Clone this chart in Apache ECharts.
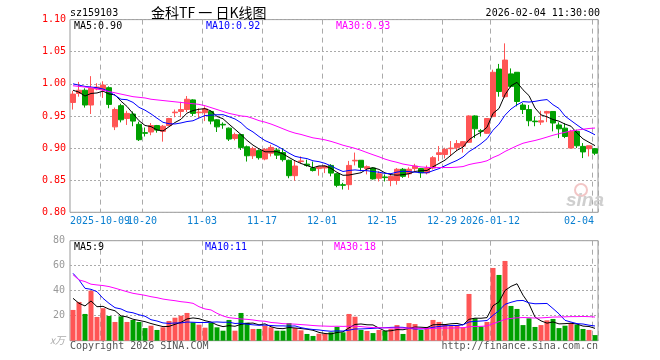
<!DOCTYPE html>
<html><head><meta charset="utf-8">
<script src="https://cdn.jsdelivr.net/npm/echarts@6/dist/echarts.min.js"></script>
<style>html,body{margin:0;padding:0;background:#fff}#c{width:660px;height:360px}</style>
</head><body><div id="c"></div>
<script>
// ---------- data ----------
const dates = [
'2025-09-24','2025-09-25','2025-09-26','2025-09-29','2025-09-30',
'2025-10-09','2025-10-10','2025-10-13','2025-10-14','2025-10-15','2025-10-16','2025-10-17',
'2025-10-20','2025-10-21','2025-10-22','2025-10-23','2025-10-24','2025-10-27','2025-10-28','2025-10-29','2025-10-30','2025-10-31',
'2025-11-03','2025-11-04','2025-11-05','2025-11-06','2025-11-07','2025-11-10','2025-11-11','2025-11-12','2025-11-13','2025-11-14',
'2025-11-17','2025-11-18','2025-11-19','2025-11-20','2025-11-21','2025-11-24','2025-11-25','2025-11-26','2025-11-27','2025-11-28',
'2025-12-01','2025-12-02','2025-12-03','2025-12-04','2025-12-05','2025-12-08','2025-12-09','2025-12-10','2025-12-11','2025-12-12',
'2025-12-15','2025-12-16','2025-12-17','2025-12-18','2025-12-19','2025-12-22','2025-12-23','2025-12-24','2025-12-25','2025-12-26',
'2025-12-29','2025-12-30','2025-12-31',
'2026-01-05','2026-01-06','2026-01-07','2026-01-08','2026-01-09','2026-01-12','2026-01-13','2026-01-14','2026-01-15','2026-01-16',
'2026-01-19','2026-01-20','2026-01-21','2026-01-22','2026-01-23','2026-01-26','2026-01-27','2026-01-28','2026-01-29','2026-01-30',
'2026-02-02','2026-02-03','2026-02-04'];

const open  = [0.971,0.985,0.990,0.967,0.992,0.991,0.994,0.933,0.966,0.946,
0.953,0.937,0.924,0.925,0.935,0.926,0.935,0.955,0.957,0.960,
0.975,0.955,0.955,0.957,0.944,0.937,0.931,0.915,0.921,0.902,
0.888,0.896,0.883,0.892,0.897,0.893,0.881,0.857,0.879,0.875,
0.869,0.868,0.869,0.873,0.860,0.843,0.843,0.880,0.881,0.868,
0.869,0.853,0.855,0.8495,0.8495,0.867,0.860,0.868,0.868,0.8615,
0.869,0.890,0.890,0.899,0.9005,0.903,0.909,0.950,0.927,0.923,
0.949,1.023,0.980,1.0155,1.018,0.967,0.960,0.942,0.9404,0.9544,
0.957,0.936,0.931,0.900,0.926,0.9026,0.899,0.899];
const close = [0.984,0.990,0.967,0.993,0.995,0.998,0.968,0.960,0.944,0.954,
0.942,0.913,0.923,0.935,0.928,0.934,0.946,0.956,0.960,0.976,
0.954,0.956,0.961,0.942,0.933,0.936,0.914,0.921,0.901,0.888,
0.899,0.885,0.898,0.901,0.889,0.882,0.857,0.872,0.880,0.873,
0.865,0.871,0.872,0.861,0.842,0.842,0.873,0.881,0.870,0.871,
0.852,0.860,0.854,0.856,0.867,0.856,0.867,0.872,0.8615,0.869,
0.885,0.8927,0.898,0.900,0.907,0.910,0.950,0.930,0.926,0.946,
1.018,0.988,1.037,0.996,0.9725,0.960,0.9425,0.941,0.9425,0.957,
0.939,0.930,0.918,0.926,0.9036,0.894,0.9036,0.892];
const high  = [0.989,1.003,0.993,1.012,1.001,1.004,0.996,0.963,0.969,0.958,
0.957,0.941,0.932,0.939,0.936,0.936,0.947,0.960,0.972,0.981,
0.976,0.962,0.965,0.958,0.945,0.940,0.932,0.924,0.922,0.904,
0.902,0.898,0.900,0.905,0.900,0.900,0.882,0.881,0.887,0.882,
0.879,0.872,0.873,0.875,0.861,0.846,0.880,0.893,0.881,0.873,
0.870,0.864,0.859,0.859,0.869,0.869,0.870,0.8755,0.869,0.873,
0.8875,0.9031,0.9005,0.911,0.9125,0.911,0.951,0.951,0.9295,0.9466,
1.022,1.031,1.063,1.024,1.018,0.970,0.967,0.949,0.958,0.958,
0.957,0.940,0.9388,0.9285,0.9285,0.9078,0.9036,0.900];
const low   = [0.960,0.980,0.963,0.953,0.990,0.978,0.962,0.928,0.940,0.936,
0.934,0.911,0.918,0.920,0.924,0.910,0.934,0.948,0.948,0.956,
0.950,0.947,0.942,0.937,0.925,0.930,0.911,0.912,0.897,0.879,
0.883,0.882,0.881,0.887,0.883,0.879,0.853,0.849,0.876,0.871,
0.8635,0.857,0.861,0.856,0.839,0.8355,0.835,0.873,0.864,0.859,
0.851,0.848,0.848,0.8406,0.843,0.8536,0.8536,0.864,0.8536,0.859,
0.8667,0.8797,0.8839,0.8875,0.8953,0.893,0.908,0.9155,0.918,0.922,
0.948,0.980,0.978,0.994,0.965,0.953,0.934,0.934,0.936,0.9404,
0.926,0.9155,0.9155,0.900,0.900,0.8844,0.887,0.889];
const volume = [24.6,31,21.4,40,19,26,19.8,15,19.5,15,
16.6,15,10.1,12,8.6,10.7,15.8,18.4,20,22.2,
14.7,12.8,10.4,14.4,10.7,8,16.6,8,22.2,14.4,
9.4,9.4,12,10.7,8,8,14.1,10.1,8.3,5.4,
3.8,5.6,5.6,6.7,11,6.7,21.4,19.2,8.6,7.8,
6.1,8.6,7.8,9.4,12.5,5.4,14.1,13.3,8.6,11,
16.6,15,13.3,11.7,12.5,10.7,37.4,17.9,11.3,15,
58.2,52.6,63.8,27.8,25.4,12.5,17.9,11,12.5,16.3,
17.4,10.1,12,14.1,12.8,9.4,8.6,4.5];

// moving-average values at the left edge (need data before the window)
const priceMA5Head  = [0.990,0.987,0.981,0.985];
const priceMA10Head = [1.000,0.998,0.996,0.995,0.994,0.992,0.988,0.982,0.976];
const priceMA30Head = [0.997,0.996,0.995,0.994,0.992,0.990,0.988,0.986,0.984,0.982,
0.980,0.979,0.978,0.976,0.975,0.974,0.973,0.972,0.971,0.970,
0.969,0.968,0.966,0.963,0.960,0.957,0.954,0.952,0.950];
const volMA5Head  = [33.9,29.9,27.8,31.8];
const volMA10Head = [53.9,48.6,41.9,41.1,39.2,33.9,29.9,26.4,25.4];
const volMA30Head = [52.8,48.6,47.3,45.2,44.6,44.1,43.3,42,40.6,39.2,
37.9,37.1,36.3,35.2,34.4,33.3,32.6,32,31.2,30.7,
29.9,27.2,25.4,24.6,21.9,19.8,18.4,17.9,17.4];

const tickIndex = [5,12,22,32,42,52,62,70,87];
const tickText  = ['2025-10-09','10-20','11-03','11-17','12-01','12-15','12-29','2026-01-12','02-04'];
const priceTicks = {min:0.80, max:1.10, interval:0.05};
const volTicks = {min:0, max:80, interval:20};

const symbolCode = 'sz159103';
const titleText = '金科TF 一 日K线图';
const stampText = '2026-02-04 11:30:00';

// ---------- helpers ----------
function ma(values, n, head){
  return values.map((v,i)=>{
    if(i < n-1) return head[i];
    let s=0; for(let k=i-n+1;k<=i;k++) s+=values[k];
    return +(s/n).toFixed(4);
  });
}
const pMA5 = ma(close,5,priceMA5Head), pMA10 = ma(close,10,priceMA10Head), pMA30 = ma(close,30,priceMA30Head);
const vMA5 = ma(volume,5,volMA5Head), vMA10 = ma(volume,10,volMA10Head), vMA30 = ma(volume,30,volMA30Head);
const last = a => a[a.length-1];

const RED='#ff5555', GREEN='#00a000';
const MONO='"DejaVu Sans Mono", "Liberation Mono", monospace';
const GL = 70, GW = 528;
const CHAR_W = 6.02; // DejaVu Sans Mono advance at 10px

// rich-text styles: labels sit on the band's left boundary (3px left of band centre); last one kept inside the frame
const dateRich = {};
tickText.forEach((t,k)=>{
  const w = t.length*CHAR_W;
  dateRich['t'+k] = (k===tickText.length-1)
    ? {color:'#0a7fd0', fontFamily:MONO, fontSize:10, width:62, align:'left', overflow:'none'}
    : {color:'#0a7fd0', fontFamily:MONO, fontSize:10, width:w-6, align:'right', overflow:'none'};
});
// the first date label touches the second one, so it is drawn by a twin axis (same grid) to avoid overlap-hiding
const firstOnTwin = [tickIndex[0]];
const onMain = tickIndex.slice(1);

const chart = echarts.init(document.getElementById('c'), null, {renderer:'canvas'});

const splitX = {show:true, interval:(i)=>tickIndex.indexOf(i)>=0, lineStyle:{color:'#aaaaaa', width:1, type:[5,4]}};
const labelFmt = (v,i)=>{const k=tickIndex.indexOf(i); if(k<0) return ''; return '{t'+k+'|'+tickText[k]+'}';};

function txt(x,y,text,color,font,align){
  return {type:'text', x:x, y:y, silent:true, z:100,
    style:{text:text, fill:color, font:font, align:align||'left', verticalAlign:'middle'}};
}

const option = {
  animation:false,
  backgroundColor:'#ffffff',
  grid:[
    {left:GL, top:19.6, width:GW, height:192.7, show:true, borderColor:'#999', borderWidth:1, backgroundColor:'transparent'},
    {left:GL, top:240.7, width:GW, height:100, show:true, borderColor:'#999', borderWidth:1, backgroundColor:'transparent'}
  ],
  xAxis:[
    {type:'category', gridIndex:0, data:dates, boundaryGap:true, position:'bottom',
     axisLine:{show:false}, axisTick:{show:false},
     axisLabel:{show:true, hideOverlap:false, showMinLabel:true, showMaxLabel:true,
       interval:(i)=>onMain.indexOf(i)>=0, margin:4, formatter:labelFmt, rich:dateRich},
     splitLine:splitX},
    {type:'category', gridIndex:1, data:dates, boundaryGap:true,
     axisLine:{show:false}, axisTick:{show:false}, axisLabel:{show:false},
     splitLine:splitX},
    {type:'category', gridIndex:0, data:dates, boundaryGap:true, position:'bottom', offset:0,
     axisLine:{show:false}, axisTick:{show:false}, splitLine:{show:false},
     axisLabel:{show:true, hideOverlap:false, showMinLabel:true, showMaxLabel:true,
       interval:(i)=>firstOnTwin.indexOf(i)>=0, margin:4, formatter:labelFmt, rich:dateRich}}
  ],
  yAxis:[
    {type:'value', gridIndex:0, min:priceTicks.min, max:priceTicks.max, interval:priceTicks.interval,
     axisLine:{show:false}, axisTick:{show:false},
     axisLabel:{color:'#ff0000', fontFamily:MONO, fontSize:10, margin:4, showMinLabel:true, showMaxLabel:true, formatter:v=>v.toFixed(2)},
     splitLine:{show:true, lineStyle:{color:'#aaaaaa', width:1, type:[2,2]}}},
    {type:'value', gridIndex:1, min:volTicks.min, max:volTicks.max, interval:volTicks.interval,
     axisLine:{show:false}, axisTick:{show:false},
     axisLabel:{color:'#999', fontFamily:MONO, fontSize:10, margin:5, showMinLabel:true, showMaxLabel:true,
       formatter:v=> v===0 ? '{u|x万}' : String(v),
       rich:{u:{color:'#aaa', fontFamily:'"Noto Sans CJK SC", sans-serif', fontSize:10, fontStyle:'italic'}}},
     splitLine:{show:true, lineStyle:{color:'#aaaaaa', width:1, type:[2,2]}}}
  ],
  series:[
    {type:'candlestick', xAxisIndex:0, yAxisIndex:0, barWidth:5,
     data: dates.map((d,i)=>[open[i], close[i], low[i], high[i]]),
     itemStyle:{color:RED, color0:GREEN, borderColor:RED, borderColor0:GREEN, borderWidth:1}},
    {type:'line', xAxisIndex:0, yAxisIndex:0, data:pMA5, symbol:'none', lineStyle:{color:'#000', width:1}},
    {type:'line', xAxisIndex:0, yAxisIndex:0, data:pMA10, symbol:'none', lineStyle:{color:'#0000ff', width:1}},
    {type:'line', xAxisIndex:0, yAxisIndex:0, data:pMA30, symbol:'none', lineStyle:{color:'#ff00ff', width:1}},
    {type:'bar', xAxisIndex:1, yAxisIndex:1, barWidth:5,
     data: volume.map((v,i)=>({value:v, itemStyle:{color: close[i]>open[i]?RED:GREEN}}))},
    {type:'line', xAxisIndex:1, yAxisIndex:1, data:vMA5, symbol:'none', lineStyle:{color:'#000', width:1}},
    {type:'line', xAxisIndex:1, yAxisIndex:1, data:vMA10, symbol:'none', lineStyle:{color:'#0000ff', width:1}},
    {type:'line', xAxisIndex:1, yAxisIndex:1, data:vMA30, symbol:'none', lineStyle:{color:'#ff00ff', width:1}}
  ],
  graphic:[
    txt(70,13,symbolCode,'#000','10px '+MONO),
    txt(151,13,titleText,'#000','14px "Noto Sans CJK SC", sans-serif'),
    txt(600,13,stampText,'#000','10px '+MONO,'right'),
    txt(74,26.5,'MA5:'+last(pMA5).toFixed(2),'#000','10px '+MONO),
    txt(206,26.5,'MA10:'+last(pMA10).toFixed(2),'#0000ff','10px '+MONO),
    txt(336,26.5,'MA30:'+last(pMA30).toFixed(2),'#ff00ff','10px '+MONO),
    txt(74,247,'MA5:'+Math.floor(last(vMA5)),'#000','10px '+MONO),
    txt(205,247,'MA10:'+Math.floor(last(vMA10)),'#0000ff','10px '+MONO),
    txt(334,247,'MA30:'+Math.floor(last(vMA30)),'#ff00ff','10px '+MONO),
    txt(70,346,'Copyright 2026 SINA.COM','#555','10px '+MONO),
    txt(598,346,'http://finance.sina.com.cn','#555','10px '+MONO,'right'),
    {type:'circle', silent:true, z:1, shape:{cx:581, cy:190, r:6}, style:{fill:'none', stroke:'#f2c6c6', lineWidth:2}},
    txt(566,201,'sina','#cfcfcf','italic bold 19px "Liberation Sans", sans-serif')
  ]
};
chart.setOption(option);
</script></body></html>
